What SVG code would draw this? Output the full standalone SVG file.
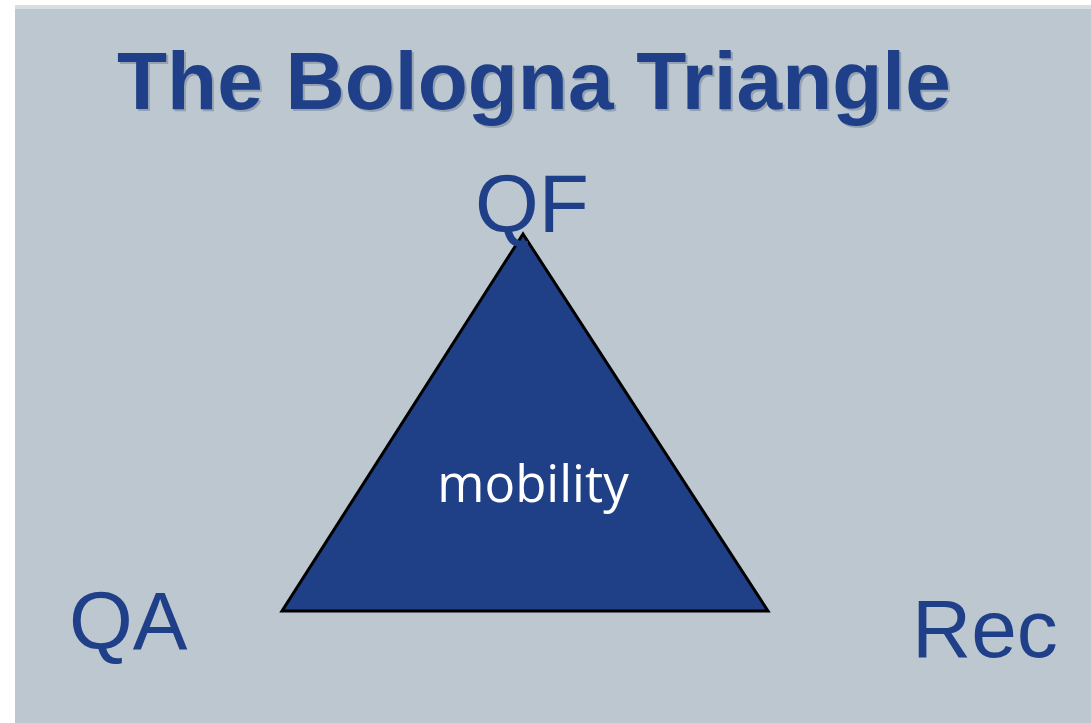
<svg xmlns="http://www.w3.org/2000/svg" width="1091" height="723" viewBox="0 0 1091 723">
<style>
.lbl{font-family:"Liberation Sans",Arial,sans-serif;font-size:82px;fill:#1f4088}
.title{font-family:"Liberation Sans",Arial,sans-serif;font-size:82px;font-weight:bold;fill:#1f4088}
.shadow{font-family:"Liberation Sans",Arial,sans-serif;font-size:82px;font-weight:bold;fill:#8391a5;opacity:0.7}
.mob{font-family:"Open Sans","Liberation Sans",sans-serif;font-size:51px;fill:#ffffff}
</style>
<rect x="0" y="0" width="1091" height="723" fill="#ffffff"/>
<rect x="15" y="5" width="1076" height="718" fill="#bcc7d0"/>
<rect x="15" y="5" width="1076" height="4" fill="#d6dee2"/>
<g id="title">
<text class="shadow" x="119" y="111">The Bologna Triangle</text>
<text class="title" x="117" y="109">The Bologna Triangle</text>
</g>
<g id="triangle">
<polygon points="523,234 282,611 768,611" fill="#1f3f87" stroke="#000000" stroke-width="3" stroke-linejoin="miter"/>
<text class="mob" x="533" y="502" text-anchor="middle">mobility</text>
</g>
<g id="qf"><text class="lbl" x="475" y="232">QF</text></g>
<g id="qa"><text class="lbl" x="69" y="649">QA</text></g>
<g id="rec"><text class="lbl" x="912" y="657">Rec</text></g>
<g id="connectors"></g>
</svg>
